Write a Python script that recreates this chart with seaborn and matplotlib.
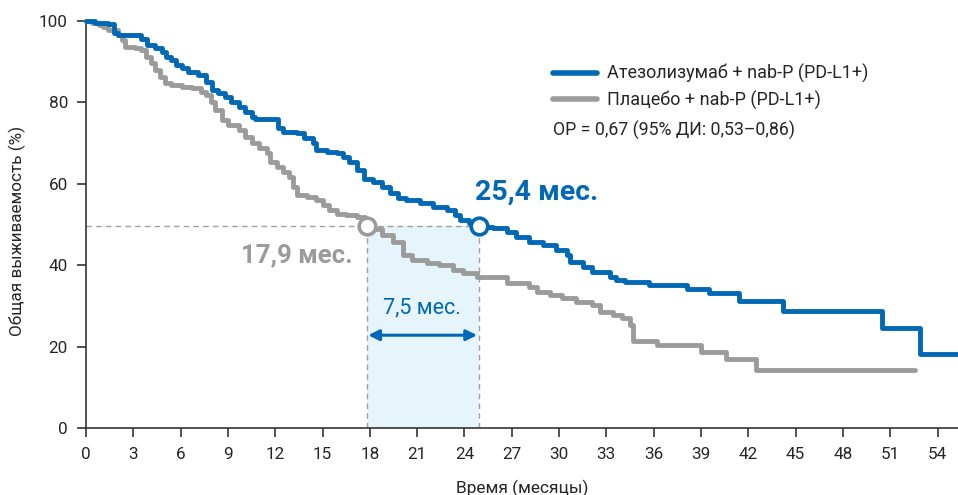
import matplotlib
matplotlib.use("Agg")
import matplotlib.pyplot as plt
import seaborn as sns
import pandas as pd
from matplotlib.lines import Line2D

# ---------------- data ----------------
atezo_t = [0, 0.6, 1.4, 1.8, 2.0, 3.5, 3.9, 4.4, 4.8, 5.1, 5.4, 5.7, 6.1, 6.5, 7.1, 7.6, 8.0,
           8.4, 8.8, 9.2, 9.7, 10.1, 10.5, 10.7, 12.2, 12.5, 13.4, 13.8, 14.4, 14.6, 15.3,
           15.9, 16.3, 16.7, 17.2, 17.6, 18.2, 18.8, 19.3, 19.8, 20.3, 21.2, 22.0, 22.9,
           23.4, 23.7, 24.3, 24.8, 25.8, 26.7, 27.3, 28.1, 29.0, 29.8, 30.5, 30.7, 31.5,
           32.1, 33.2, 33.6, 34.2, 35.7, 38.1, 39.5, 41.4, 44.2, 50.5, 52.9, 55.3]
atezo_s = [100, 99.6, 99.2, 97.0, 96.6, 95.7, 94.1, 93.3, 92.5, 91.2, 90.4, 89.2, 88.4, 87.5,
           86.7, 85.1, 83.0, 82.2, 81.4, 80.2, 78.9, 77.7, 76.5, 75.8, 73.6, 72.8, 72.4,
           71.2, 70.0, 68.3, 67.9, 67.5, 66.7, 65.4, 63.4, 61.3, 60.5, 59.3, 57.7, 56.6,
           56.0, 55.2, 54.4, 53.6, 52.3, 51.1, 50.3, 49.5, 49.1, 48.2, 47.0, 45.8, 45.0,
           43.7, 42.5, 40.9, 39.6, 38.4, 37.2, 36.4, 35.9, 35.1, 34.2, 33.2, 31.2, 28.7,
           24.6, 18.2, 18.2]

placebo_t = [0, 0.4, 0.8, 1.1, 1.4, 2.0, 2.3, 2.5, 3.1, 3.5, 3.8, 4.1, 4.4, 4.7, 5.0, 5.4, 6.1, 6.7,
             7.3, 7.6, 7.9, 8.2, 8.6, 9.0, 9.7, 10.1, 10.5, 11.0, 11.5, 11.7, 12.1, 12.5,
             12.9, 13.1, 13.4, 14.0, 14.6, 15.0, 15.4, 15.9, 16.5, 17.2, 17.7, 17.9, 18.2,
             18.8, 19.5, 20.1, 20.7, 21.6, 22.4, 23.3, 23.9, 24.8, 26.7, 28.1, 28.6, 29.4,
             30.2, 31.1, 32.1, 32.6, 33.4, 34.0, 34.5, 34.7, 36.2, 39.0, 40.6, 42.5, 52.6]
placebo_s = [100, 99.5, 99.0, 98.6, 97.8, 96.6, 95.3, 93.7, 93.3, 92.9, 91.2, 89.6, 88.0, 86.3, 84.7,
             84.3, 83.9, 83.5, 82.6, 81.8, 80.2, 78.1, 75.7, 74.4, 73.2, 71.6, 70.0, 68.7,
             67.5, 65.4, 64.2, 63.0, 61.7, 59.3, 57.2, 56.8, 56.0, 54.8, 53.6, 52.7, 52.3,
             51.9, 51.1, 49.6, 49.0, 47.4, 45.8, 42.5, 41.3, 40.5, 40.0, 38.8, 38.0, 37.2,
             35.6, 34.7, 33.5, 32.7, 31.9, 31.0, 30.2, 28.6, 27.8, 27.0, 25.3, 21.4, 20.4,
             18.7, 16.9, 14.2, 14.2]

series_labels = ["Атезолизумаб + nab-P (PD-L1+)", "Плацебо + nab-P (PD-L1+)"]
hr_text = "ОР = 0,67 (95% ДИ: 0,53–0,86)"
median_atezo_pos = 24.9      # drawn position of the median marker
median_placebo_pos = 17.8
median_level = 49.6
median_atezo_label = "25,4 мес."
median_placebo_label = "17,9 мес."
diff_label = "7,5 мес."
x_ticks = list(range(0, 55, 3))
y_ticks = [0, 20, 40, 60, 80, 100]
x_label = "Время (месяцы)"
y_label = "Общая выживаемость (%)"

BLUE = "#0068B4"
GRAY = "#9B9B9B"
FILL = "#E6F4FC"

# ---------------- style ----------------
sns.set_style("ticks")
plt.rcParams["font.family"] = ["Roboto", "DejaVu Sans"]

fig = plt.figure(figsize=(9.58, 4.95), dpi=100)
ax = fig.add_axes([86 / 958, 1 - 428 / 495, (958 - 86) / 958, (428 - 21) / 495])

df_a = pd.DataFrame({"t": atezo_t, "s": atezo_s})
df_p = pd.DataFrame({"t": placebo_t, "s": placebo_s})

# shaded region and dashed guides
ax.fill_between([median_placebo_pos, median_atezo_pos], 0, median_level,
                color=FILL, lw=0, zorder=1)
dash = dict(color="#A0A0A0", lw=1.0, ls=(0, (4, 3)), zorder=2)
ax.plot([0, median_atezo_pos], [median_level, median_level], **dash)
ax.plot([median_placebo_pos, median_placebo_pos], [0, median_level], **dash)
ax.plot([median_atezo_pos, median_atezo_pos], [0, median_level], **dash)

sns.lineplot(data=df_p, x="t", y="s", ax=ax, color=GRAY, lw=3.5,
             drawstyle="steps-post", estimator=None, sort=False, zorder=3,
             clip_on=False)
sns.lineplot(data=df_a, x="t", y="s", ax=ax, color=BLUE, lw=3.5,
             drawstyle="steps-post", estimator=None, sort=False, zorder=4,
             clip_on=False)

# median markers
ax.plot([median_placebo_pos], [median_level], marker="o", ms=12, mfc="white",
        mec=GRAY, mew=2.6, zorder=6, clip_on=False)
ax.plot([median_atezo_pos], [median_level], marker="o", ms=12, mfc="white",
        mec=BLUE, mew=2.6, zorder=6, clip_on=False)

# annotations
ax.text(24.65, 57.9, median_atezo_label, color=BLUE, fontsize=20.5,
        fontweight="bold", ha="left", va="center")
ax.text(16.9, 42.5, median_placebo_label, color=GRAY, fontsize=18.5,
        fontweight="bold", ha="right", va="center")
ax.text(21.3, 29.5, diff_label, color=BLUE, fontsize=15.5, ha="center", va="center")
ax.annotate("", xy=(median_atezo_pos - 0.1, 22.8), xytext=(median_placebo_pos + 0.1, 22.8),
            arrowprops=dict(arrowstyle="<|-|>", color=BLUE, lw=2.2,
                            mutation_scale=16, shrinkA=0, shrinkB=0))

# legend
handles = [Line2D([0], [0], color=BLUE, lw=4),
           Line2D([0], [0], color=GRAY, lw=4)]
fig.legend(handles, series_labels, loc="upper left",
           bbox_to_anchor=(553 / 958, 1 - 64 / 495), frameon=False,
           fontsize=13, handlelength=2.45, handletextpad=0.55,
           labelspacing=0.4, borderpad=0, borderaxespad=0)
fig.text(553 / 958, 1 - 130 / 495, hr_text, fontsize=12.8, ha="left", va="center")

# axes
ax.set_xlim(0, 55.3)
ax.set_ylim(0, 100)
ax.set_xticks(x_ticks)
ax.set_yticks(y_ticks)
ax.tick_params(axis="x", direction="out", length=6.5, width=1.2, pad=7,
               labelsize=12.3, color="#333333")
ax.tick_params(axis="y", direction="out", length=6.5, width=1.2, pad=6.5,
               labelsize=12.3, color="#333333")
for side in ["top", "right"]:
    ax.spines[side].set_visible(False)
for side in ["left", "bottom"]:
    ax.spines[side].set_linewidth(1.2)
    ax.spines[side].set_color("#333333")
ax.set_xlabel(x_label, fontsize=12.5)
ax.set_ylabel(y_label, fontsize=12.3)
ax.xaxis.set_label_coords(0.5, -0.126)
ax.yaxis.set_label_coords(-0.069, 0.485)

fig.savefig("out.png", dpi=100)
